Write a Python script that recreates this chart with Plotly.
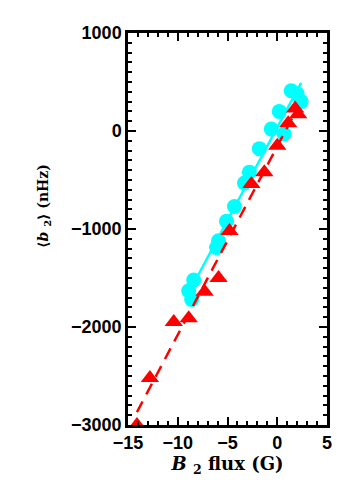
import numpy as np
import plotly.graph_objects as go

# cyan circles
cyan_x = [-8.6, -8.9, -8.4, -6.1, -5.9, -5.1, -4.3, -3.3, -2.8, -1.8, -0.6, 0.7, 0.2, 1.4, 2.4, 2.0]
cyan_y = [-1720, -1630, -1520, -1190, -1120, -920, -770, -530, -420, -180, 20, -30, 200, 410, 300, 380]
# red triangles
red_x = [-14.1, -12.8, -10.4, -8.9, -7.3, -5.9, -4.8, -2.6, -1.3, 0.0, 1.1, 1.8, 2.1]
red_y = [-3000, -2520, -1950, -1910, -1640, -1500, -1020, -540, -420, -150, 80, 230, 170]

x_ticks = [-15, -10, -5, 0, 5]
y_ticks = [-3000, -2000, -1000, 0, 1000]

cx = np.array(cyan_x); cy = np.array(cyan_y)
rx = np.array(red_x); ry = np.array(red_y)
cp = np.polyfit(cx, cy, 1)
rp = np.polyfit(rx, ry, 1)
cl_x = np.array([cx.min(), cx.max()])
rl_x = np.array([rx.min(), rx.max()])

fig = go.Figure()
fig.add_trace(go.Scatter(x=cyan_x, y=cyan_y, mode="markers",
                         marker=dict(symbol="circle", size=15, color="#00ffff", line=dict(width=0)),
                         showlegend=False))
fig.add_trace(go.Scatter(x=cl_x, y=np.polyval(cp, cl_x), mode="lines",
                         line=dict(color="#00ffff", width=2.5), showlegend=False))
fig.add_trace(go.Scatter(x=red_x, y=red_y, mode="markers",
                         marker=dict(symbol="triangle-up", size=16, color="#ff0000", line=dict(width=0)),
                         showlegend=False))
fig.add_trace(go.Scatter(x=rl_x, y=np.polyval(rp, rl_x), mode="lines",
                         line=dict(color="#ff0000", width=2.5, dash="12px,8px"), showlegend=False))

tickfont = dict(family="Liberation Sans", size=18, color="black", weight="bold")
xtitlefont = dict(family="DejaVu Serif", size=18, color="black", weight="bold")
ytitlefont = dict(family="DejaVu Serif", size=14, color="black", weight="bold")

def labels(vals):
    return [("\u2212" + str(-v)) if v < 0 else str(v) for v in vals]

fig.update_layout(
    width=354, height=491,
    margin=dict(l=120, r=35, t=25, b=74),
    paper_bgcolor="white", plot_bgcolor="white",
    xaxis=dict(range=[-15, 5], tickvals=x_ticks, ticktext=labels(x_ticks), automargin=False,
               ticks="inside", ticklen=8, tickwidth=2, tickcolor="black",
               minor=dict(dtick=1, ticks="inside", ticklen=4, tickwidth=1.5, tickcolor="black"),
               showline=True, linewidth=2.5, linecolor="black", mirror="allticks",
               showgrid=False, zeroline=False, tickfont=tickfont,
               title=dict(text="<i>B</i> <sub>2</sub> flux (G)", font=xtitlefont, standoff=2)),
    yaxis=dict(range=[-3000, 1000], tickvals=y_ticks, ticktext=labels(y_ticks), automargin=False,
               ticks="inside", ticklen=8, tickwidth=2, tickcolor="black",
               minor=dict(dtick=100, ticks="inside", ticklen=4, tickwidth=1.5, tickcolor="black"),
               showline=True, linewidth=2.5, linecolor="black", mirror="allticks",
               showgrid=False, zeroline=False, tickfont=tickfont),
    annotations=[dict(text="\u27e8<i>b</i> <sub>2</sub>\u27e9 (nHz)", font=ytitlefont,
                      textangle=-90, xref="paper", yref="paper", x=-0.42, y=0.56,
                      xanchor="center", yanchor="middle", showarrow=False)],
)
fig.write_html("out.html")
